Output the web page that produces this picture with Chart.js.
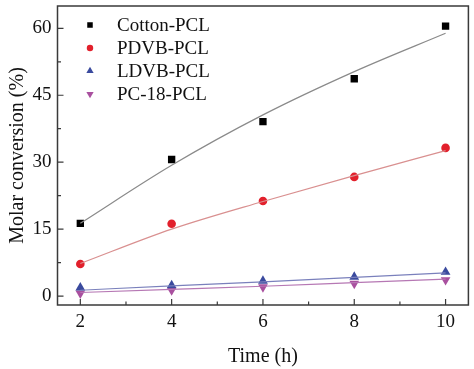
<!DOCTYPE html>
<html>
<head>
<meta charset="utf-8">
<script src="https://cdn.jsdelivr.net/npm/chart.js@4.4.1/dist/chart.umd.min.js"></script>
<style>
    html, body { margin: 0; padding: 0; background: #fff; }
    #wrap { width: 474px; height: 369px; }
</style>
</head>
<body>
<div id="wrap"><canvas id="chart" width="474" height="369"></canvas></div>
<script>
// Data
const times = [2, 4, 6, 8, 10];
const cotton = [16.3, 30.6, 39.1, 48.7, 60.5];
const pdvb = [7.2, 16.2, 21.3, 26.7, 33.2];
const ldvb = [1.9, 2.4, 3.4, 4.3, 5.4];
const pc18 = [0.6, 1.3, 2.0, 2.8, 3.6];

// Fitted curves (read at the same times)
const cottonFit = [16.3, 29.3, 40.6, 50.3, 58.9];
const pdvbFit = [7.3, 15.0, 21.2, 27.0, 32.6];
const ldvbFit = [1.3, 2.3, 3.2, 4.2, 5.2];
const pc18Fit = [0.8, 1.5, 2.2, 3.0, 3.8];

const seriesNames = ['Cotton-PCL', 'PDVB-PCL', 'LDVB-PCL', 'PC-18-PCL'];
const xTicks = [2, 4, 6, 8, 10];
const xMinor = [3, 5, 7, 9];
const yTicks = [0, 15, 30, 45, 60];
const yMinor = [7.5, 22.5, 37.5, 52.5];

const serif = "'Liberation Serif', 'Times New Roman', serif";

function toPoints(ys) {
    return times.map((t, i) => ({ x: t, y: ys[i] }));
}

const markers = [
    { style: 'rect', color: '#000000', radius: 5.2, rotation: 0, line: '#8a8a8a' },
    { style: 'circle', color: '#e2202c', radius: 4.3, rotation: 0, line: '#d99090' },
    { style: 'triangle', color: '#3a4a9e', radius: 5.6, rotation: 0, line: '#7a80bc' },
    { style: 'triangle', color: '#a9509f', radius: 5.6, rotation: 180, line: '#b678b4' }
];

const pointSets = [cotton, pdvb, ldvb, pc18];
const fitSets = [cottonFit, pdvbFit, ldvbFit, pc18Fit];

const datasets = [];
fitSets.forEach((ys, i) => {
    datasets.push({
        label: seriesNames[i] + ' fit',
        data: toPoints(ys),
        showLine: true,
        borderColor: markers[i].line,
        borderWidth: 1.2,
        pointRadius: 0,
        tension: 0.4,
        cubicInterpolationMode: 'monotone'
    });
});
pointSets.forEach((ys, i) => {
    datasets.push({
        label: seriesNames[i],
        data: toPoints(ys),
        showLine: false,
        pointStyle: markers[i].style,
        pointRotation: markers[i].rotation,
        pointRadius: markers[i].radius,
        backgroundColor: markers[i].color,
        borderColor: markers[i].color,
        borderWidth: 0
    });
});

// Frame, inward ticks and legend inside the plot
const framePlugin = {
    id: 'frame',
    afterDatasetsDraw(chart) {
        const ctx = chart.ctx;
        const a = chart.chartArea;
        const xs = chart.scales.x;
        const ys = chart.scales.y;
        ctx.save();
        ctx.strokeStyle = '#3a3a3a';
        ctx.lineWidth = 1.5;
        ctx.strokeRect(a.left, a.top, a.right - a.left, a.bottom - a.top);

        ctx.lineWidth = 1.2;
        ctx.beginPath();
        yTicks.forEach(v => {
            const y = ys.getPixelForValue(v);
            ctx.moveTo(a.left, y); ctx.lineTo(a.left + 6, y);
        });
        yMinor.forEach(v => {
            const y = ys.getPixelForValue(v);
            ctx.moveTo(a.left, y); ctx.lineTo(a.left + 3.5, y);
        });
        xTicks.forEach(v => {
            const x = xs.getPixelForValue(v);
            ctx.moveTo(x, a.bottom); ctx.lineTo(x, a.bottom - 6);
        });
        xMinor.forEach(v => {
            const x = xs.getPixelForValue(v);
            ctx.moveTo(x, a.bottom); ctx.lineTo(x, a.bottom - 3.5);
        });
        ctx.stroke();

        // legend
        ctx.font = '19px ' + serif;
        ctx.textBaseline = 'middle';
        seriesNames.forEach((name, i) => {
            const y = a.top + 19 + i * 23;
            const m = markers[i];
            ctx.fillStyle = m.color;
            ctx.strokeStyle = m.color;
            Chart.helpers.drawPoint(ctx, {
                pointStyle: m.style,
                rotation: m.rotation,
                radius: m.radius * 0.75,
                borderWidth: 0
            }, a.left + 32.5, y);
            ctx.fillStyle = '#111';
            ctx.fillText(name, a.left + 59.5, y + 1);
        });
        ctx.restore();
    }
};

new Chart(document.getElementById('chart').getContext('2d'), {
    type: 'scatter',
    data: { datasets: datasets },
    options: {
        responsive: false,
        animation: false,
        layout: { padding: { top: 6, right: 5, left: 0, bottom: 0 } },
        plugins: {
            legend: { display: false },
            tooltip: { enabled: false }
        },
        scales: {
            x: {
                type: 'linear',
                min: 1.5,
                max: 10.5,
                afterBuildTicks: s => { s.ticks = xTicks.map(v => ({ value: v })); },
                afterFit: s => { s.height = 64; s.paddingLeft = 0; s.paddingRight = 0; },
                grid: { display: false, drawTicks: false },
                border: { display: false },
                ticks: {
                    color: '#111',
                    padding: 6,
                    maxRotation: 0,
                    font: { family: serif, size: 19 }
                },
                title: {
                    display: true,
                    text: 'Time (h)',
                    color: '#111',
                    padding: { top: 0, bottom: 0 },
                    font: { family: serif, size: 20 }
                }
            },
            y: {
                min: -2,
                max: 65,
                afterBuildTicks: s => { s.ticks = yTicks.map(v => ({ value: v })); },
                afterFit: s => { s.width = 57.5; s.paddingTop = 0; s.paddingBottom = 0; },
                grid: { display: false, drawTicks: false },
                border: { display: false },
                ticks: {
                    color: '#111',
                    padding: 6,
                    font: { family: serif, size: 19 }
                },
                title: {
                    display: true,
                    text: 'Molar conversion (%)',
                    color: '#111',
                    padding: { top: 6, bottom: 0 },
                    font: { family: serif, size: 20 }
                }
            }
        }
    },
    plugins: [framePlugin]
});
</script>
</body>
</html>
